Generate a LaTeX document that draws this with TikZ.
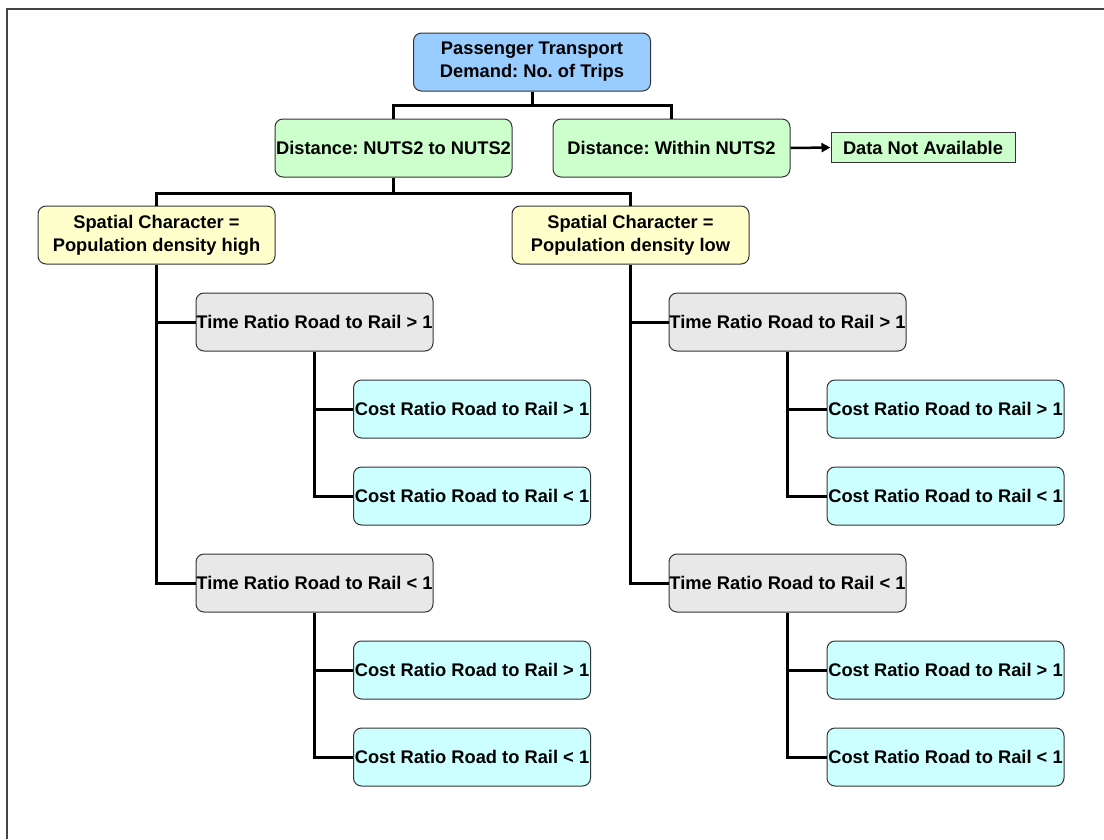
\documentclass[tikz,border=0pt]{standalone}
\usepackage{fontspec}
\setmainfont{Liberation Sans}
\usetikzlibrary{arrows.meta}
\frenchspacing
\definecolor{cblue}{HTML}{99CCFF}
\definecolor{cgreen}{HTML}{CCFFCC}
\definecolor{cyellow}{HTML}{FFFFCC}
\definecolor{cgray}{HTML}{E8E8E8}
\definecolor{ccyan}{HTML}{CCFFFF}
\definecolor{frame}{HTML}{444444}
\definecolor{edge}{HTML}{333333}
\tikzset{
  box/.style={draw=edge, line width=1pt, rounded corners=8pt, minimum width=237pt, minimum height=58pt,
    inner xsep=0pt, inner ysep=0pt, align=center,
    font=\fontsize{18.3}{23}\selectfont\bfseries},
  bluebox/.style={box, fill=cblue},
  greenbox/.style={box, fill=cgreen},
  yellowbox/.style={box, fill=cyellow},
  graybox/.style={box, fill=cgray},
  cyanbox/.style={box, fill=ccyan},
  plainbox/.style={draw=edge, line width=1pt, fill=cgreen, minimum width=184pt, minimum height=30pt,
    inner sep=0pt, font=\fontsize{18.3}{23}\selectfont\bfseries},
  conn/.style={line width=3pt, draw=black},
}
\begin{document}
\begin{tikzpicture}[x=1pt,y=-1pt]
\useasboundingbox (0,0) rectangle (1104,839);
\draw[frame, line width=2.2pt] (7,839) -- (7,9) -- (1104,9);

\node[bluebox] (top) at (532,62) {Passenger Transport\\Demand: No. of Trips};
\node[greenbox] (g1) at (393.5,148) {Distance: NUTS2 to NUTS2};
\node[greenbox] (g2) at (671.5,148) {Distance: Within NUTS2};
\node[plainbox] (dna) at (923,147.5) {Data Not Available};
\node[yellowbox] (y1) at (156.5,235) {Spatial Character =\\Population density high};
\node[yellowbox] (y2) at (630.5,235) {Spatial Character =\\Population density low};

\node[graybox] (la) at (314.5,322) {Time Ratio Road to Rail > 1};
\node[graybox] (lb) at (314.5,583) {Time Ratio Road to Rail < 1};
\node[cyanbox] (la1) at (472,409) {Cost Ratio Road to Rail > 1};
\node[cyanbox] (la2) at (472,496) {Cost Ratio Road to Rail < 1};
\node[cyanbox] (lb1) at (472,670) {Cost Ratio Road to Rail > 1};
\node[cyanbox] (lb2) at (472,757) {Cost Ratio Road to Rail < 1};

\node[graybox] (ra) at (787.5,322) {Time Ratio Road to Rail > 1};
\node[graybox] (rb) at (787.5,583) {Time Ratio Road to Rail < 1};
\node[cyanbox] (ra1) at (945.5,409) {Cost Ratio Road to Rail > 1};
\node[cyanbox] (ra2) at (945.5,496) {Cost Ratio Road to Rail < 1};
\node[cyanbox] (rb1) at (945.5,670) {Cost Ratio Road to Rail > 1};
\node[cyanbox] (rb2) at (945.5,757) {Cost Ratio Road to Rail < 1};

\coordinate (j1) at (532,105);
\coordinate (j2) at (393.5,193);
\draw[conn] (top.south) -- (j1);
\draw[conn] (g1.north) |- (j1) -| (g2.north);
\draw[conn] (g1.south) -- (j2);
\draw[conn] (y1.north) |- (j2) -| (y2.north);

\draw[line width=2.5pt, -{Triangle[length=9pt,width=9pt]}] (g2.east) -- (dna.west);

\draw[conn] (y1.south) |- (lb.west);
\draw[conn] (y1.south |- la.west) -- (la.west);
\draw[conn] (la.south) |- (la2.west);
\draw[conn] (la.south |- la1.west) -- (la1.west);
\draw[conn] (lb.south) |- (lb2.west);
\draw[conn] (lb.south |- lb1.west) -- (lb1.west);

\draw[conn] (y2.south) |- (rb.west);
\draw[conn] (y2.south |- ra.west) -- (ra.west);
\draw[conn] (ra.south) |- (ra2.west);
\draw[conn] (ra.south |- ra1.west) -- (ra1.west);
\draw[conn] (rb.south) |- (rb2.west);
\draw[conn] (rb.south |- rb1.west) -- (rb1.west);
\end{tikzpicture}
\end{document}
